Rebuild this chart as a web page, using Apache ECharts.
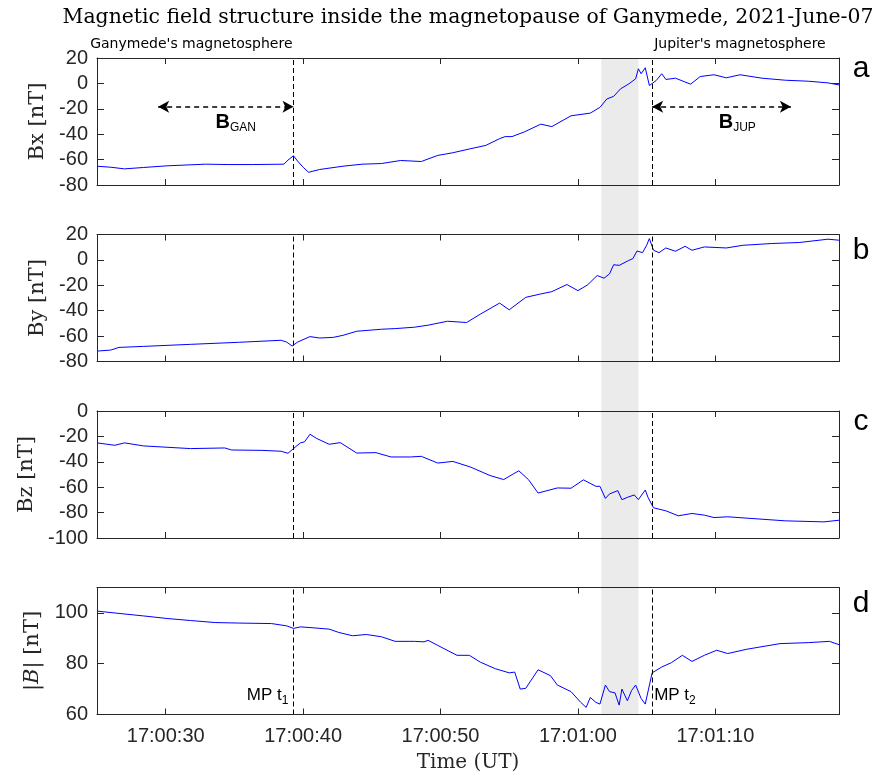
<!DOCTYPE html>
<html><head><meta charset="utf-8">
<script src="https://cdn.jsdelivr.net/npm/echarts@6/dist/echarts.min.js"></script>
<style>html,body{margin:0;padding:0;background:#fff}#c{width:880px;height:776px}</style>
</head><body><div id="c"></div>
<script>
// ---- data (seconds after 17:00:00 UT) ----
const bxTime = [25,26.0,27.0,28.4,30.1,32.9,34.6,36.3,38.6,38.9,39.3,39.6,40.0,40.4,41.2,42.9,44.3,45.7,47.1,48.6,49.8,50.9,52.2,53.3,54.3,54.7,55.2,56.1,57.3,58.1,59.5,60.9,61.6,62.1,62.6,63.1,63.7,64.2,64.4,64.6,64.9,65.2,65.7,66.1,66.4,67.1,68.2,68.9,69.9,70.8,71.8,73.4,75.1,76.8,78.2,79.0];
const bxVal  = [-65.2,-66,-67.3,-66.2,-64.9,-63.6,-63.9,-63.9,-63.6,-60.4,-57,-61.2,-66,-70,-67.8,-65.2,-63.6,-63.1,-60.7,-61.5,-56.7,-54.6,-51.4,-48.8,-43.5,-41.9,-41.9,-38.2,-32.1,-34,-25.5,-23.4,-18.9,-12.3,-10.2,-4.3,-0.4,3.6,11.5,7.6,12.3,-1.7,2.3,7.6,3.1,4.1,-0.6,5.4,6.8,4.4,6.8,4.1,2.5,1.7,0.4,-1.2];
const byTime = [25,26.0,26.6,28.4,31.8,35.3,38.4,38.8,39.2,39.6,40.5,41.2,42.2,42.9,43.9,45.7,46.7,48.1,49.1,50.5,51.9,52.9,54.3,55.0,56.2,57.3,58.1,59.2,60.0,60.7,61.4,61.9,62.3,62.6,63.0,63.7,64.0,64.3,64.7,65.0,65.2,65.5,65.9,66.4,67.1,67.8,68.3,69.2,70.8,72.0,74.1,76.1,78.2,79.0];
const byVal  = [-71.8,-71,-68.9,-68.1,-66.5,-64.9,-63.3,-64.7,-67.8,-64.7,-60.4,-61.5,-61,-59.4,-56.2,-54.6,-54.1,-53,-51.4,-48.3,-49.3,-42.7,-34,-39.3,-29.5,-26.8,-25,-19.4,-24.2,-19.7,-12.3,-14.4,-11,-3.8,-4.3,-0.4,1,7,5.7,11.5,16.8,7.6,5.7,9.4,6.8,10.7,7.6,10.2,9.4,11.5,12.9,13.7,16.3,15.5];
const bzTime = [25,26.3,27.0,28.4,31.8,34.3,34.8,37.0,38.4,38.9,39.3,39.8,40.1,40.5,41.0,41.9,42.7,43.9,45.3,46.4,47.8,48.6,49.8,50.9,52.2,53.6,54.6,55.3,55.7,56.4,57.1,58.5,59.5,60.4,61.3,61.6,62.0,62.3,62.9,63.2,63.6,64.1,64.4,64.9,65.1,65.5,66.4,67.3,68.3,69.2,69.9,70.9,73.4,75.1,77.9,79.0];
const bzVal  = [-25.1,-27,-25.1,-27.5,-29.6,-29.1,-30.7,-31,-31.7,-33.3,-29.6,-25.1,-24.3,-18.3,-21.7,-26.2,-24.9,-33.1,-32.8,-36.2,-36.2,-35.7,-41,-39.7,-44.2,-50.8,-54,-49.5,-47.1,-54,-64.6,-60.6,-60.8,-54.2,-59.3,-59.3,-68.8,-65.3,-62.7,-69.8,-68,-66.1,-69.8,-62.2,-68,-76.2,-78.6,-82.5,-80.7,-82,-83.9,-83.3,-85.2,-86.5,-87.3,-86];
const btTime = [25,26.6,28.4,30.1,31.8,33.6,35.3,37.7,38.8,39.3,39.8,40.8,41.9,42.6,43.6,44.6,45.7,46.7,48.1,48.8,49.1,49.8,51.2,52.1,52.9,54.0,55.0,55.4,55.8,56.2,57.1,58.0,58.5,59.5,60.2,60.6,60.9,61.3,61.6,62.0,62.3,62.7,63.0,63.2,63.6,63.9,64.2,64.6,64.9,65.4,66.1,66.8,67.6,68.3,69.2,70.1,70.9,72.3,74.7,76.8,78.3,79.0];
const btVal  = [100.7,99.8,98.8,97.8,97,96.2,96,95.8,94.9,93.9,94.5,94.1,93.6,92.3,91,91.5,90.6,88.8,88.8,88.6,89.2,87.2,83.3,83.3,80.6,78,76.4,76.7,70,70.3,77.6,75.3,71.6,69,64.8,62.8,66.7,64.8,64.1,71.6,69,68.5,63.7,70,65.4,69.4,71.6,66.3,64.1,76.4,78.7,80.4,83.3,80.9,83.3,85.3,84,85.7,87.9,88.3,88.8,87.5];

const xTickSec = [30,40,50,60,70];
const xTickLabels = ['17:00:30','17:00:40','17:00:50','17:01:00','17:01:10'];
const xRange = [25,79];
const yRanges = [[-80,20],[-80,20],[-100,0],[60,110]];
const yNames = ['Bx [nT]','By [nT]','Bz [nT]','|{i|B}| [nT]'];
const panelLetters = ['a','b','c','d'];
const mpTimes = [39.3, 65.4];
const bandTimes = [61.7, 64.4];
const arrowGan = [[29.45,-18.4],[39.3,-18.4]];
const arrowJup = [[65.4,-18.4],[75.5,-18.4]];
const titleText = 'Magnetic field structure inside the magnetopause of Ganymede, 2021-June-07';

// ---- layout ----
const L = 97, R = 41, H = 127;
const tops = [58, 234.5, 411, 587.5];
const nameGaps = [48, 48, 60, 54];
const AX = '#262626';
const sans = 'Liberation Sans, Arial, sans-serif';
const serif = 'DejaVu Serif, serif';

const series = [[bxTime,bxVal],[byTime,byVal],[bzTime,bzVal],[btTime,btVal]];

const grid = [], xAxis = [], yAxis = [], ser = [];
const fmtX = v => { const i = xTickSec.indexOf(v); return i < 0 ? '' : xTickLabels[i]; };

for (let i = 0; i < 4; i++) {
  grid.push({left: L, right: R, top: tops[i], height: H});
  const xBase = {
    gridIndex: i, type: 'value', min: xRange[0], max: xRange[1], z: 5,
    axisLine: {show: true, onZero: false, lineStyle: {color: AX, width: 1}},
    axisTick: {show: true, inside: true, length: 6, customValues: xTickSec, lineStyle: {color: AX}},
    splitLine: {show: false}
  };
  xAxis.push(Object.assign({}, xBase, {
    position: 'bottom',
    axisLabel: {show: i === 3, customValues: xTickSec, formatter: fmtX, fontFamily: sans, fontSize: 20, color: AX, margin: 12},
    name: i === 3 ? 'Time (UT)' : '', nameLocation: 'middle', nameGap: 38,
    nameTextStyle: {fontFamily: serif, fontSize: 20, color: AX}
  }));
  xAxis.push(Object.assign({}, xBase, {position: 'top', axisLabel: {show: false}}));
  const yBase = {
    gridIndex: i, type: 'value', min: yRanges[i][0], max: yRanges[i][1], interval: 20, z: 5,
    axisLine: {show: true, onZero: false, lineStyle: {color: AX, width: 1}},
    axisTick: {show: true, inside: true, length: 7, lineStyle: {color: AX}},
    splitLine: {show: false}
  };
  yAxis.push(Object.assign({}, yBase, {
    position: 'left',
    axisLabel: {fontFamily: sans, fontSize: 20, color: AX, margin: 9, showMaxLabel: i !== 3},
    name: yNames[i], nameLocation: 'middle', nameRotate: 90, nameGap: nameGaps[i],
    nameTextStyle: {fontFamily: serif, fontSize: 21, color: AX, rich: {i: {fontFamily: serif, fontStyle: 'italic', fontSize: 21, color: AX}}}
  }));
  yAxis.push(Object.assign({}, yBase, {position: 'right', axisLabel: {show: false}}));

  ser.push({
    type: 'line', xAxisIndex: 2*i, yAxisIndex: 2*i, z: 3,
    data: series[i][0].map((t, k) => [t, series[i][1][k]]),
    showSymbol: false, symbol: 'none', lineStyle: {color: '#0000ff', width: 1}, itemStyle: {color: '#0000ff'},
    animation: false,
    markLine: {silent: true, symbol: 'none', animation: false,
      lineStyle: {color: '#000', type: [5, 3], width: 1}, label: {show: false},
      data: mpTimes.map(t => ({xAxis: t}))}
  });
}

// background band spanning all panels
grid.push({left: L, right: R, top: tops[0], height: tops[3] + H - tops[0]});
xAxis.push({gridIndex: 4, type: 'value', min: xRange[0], max: xRange[1], show: false});
yAxis.push({gridIndex: 4, type: 'value', min: 0, max: 1, show: false});
ser.push({type: 'line', xAxisIndex: 8, yAxisIndex: 8, z: 1, data: [], animation: false,
  markArea: {silent: true, itemStyle: {color: '#ebebeb'}, data: [[{xAxis: bandTimes[0]}, {xAxis: bandTimes[1]}]]}});

// arrows in panel a
ser.push({type: 'line', xAxisIndex: 0, yAxisIndex: 0, z: 4, data: [], animation: false,
  markLine: {silent: true, symbol: ['arrow', 'arrow'], symbolSize: [9, 11], animation: false,
    lineStyle: {color: '#000', type: [5, 4], width: 1.5}, label: {show: false},
    data: [[{coord: arrowGan[0]}, {coord: arrowGan[1]}], [{coord: arrowJup[0]}, {coord: arrowJup[1]}]]}});

// text annotations
const richSub = {
  b: {fontFamily: sans, fontWeight: 'bold', fontSize: 20, color: '#000', lineHeight: 22, verticalAlign: 'middle'},
  g: {fontFamily: sans, fontSize: 12, color: '#000', lineHeight: 12, verticalAlign: 'bottom'},
  m: {fontFamily: sans, fontSize: 17, color: '#000', lineHeight: 23, verticalAlign: 'middle'},
  s: {fontFamily: sans, fontSize: 12, color: '#000', lineHeight: 12, verticalAlign: 'bottom'},
  t: {fontFamily: 'DejaVu Sans, sans-serif', fontSize: 14, color: '#000'}
};
const annotations = [
  {p: 0, t: mpTimes[0], v: 30.5, text: "{t|Ganymede's magnetosphere}", pos: 'left', dist: 1},
  {p: 0, t: mpTimes[1], v: 30.5, text: "{t|Jupiter's magnetosphere}", pos: 'right', dist: 2},
  {p: 0, t: 35.1, v: -31, text: '{b|B}{g|GAN}', pos: 'inside', dist: 0},
  {p: 0, t: 71.6, v: -31, text: '{b|B}{g|JUP}', pos: 'inside', dist: 0},
  {p: 3, t: mpTimes[0], v: 67.5, text: '{m|MP t}{s|1}', pos: 'left', dist: 5},
  {p: 3, t: mpTimes[1], v: 67.5, text: '{m|MP t}{s|2}', pos: 'right', dist: 2}
];
annotations.forEach(a => {
  ser.push({type: 'scatter', xAxisIndex: 2*a.p, yAxisIndex: 2*a.p, z: 6, clip: false, silent: true, animation: false,
    symbolSize: 0, data: [[a.t, a.v]],
    label: {show: true, position: a.pos, distance: a.dist, formatter: a.text, color: '#000', opacity: 1, rich: richSub}});
});

const graphic = [
  {type: 'text', x: L + (880 - L - R) / 2, y: 18, style: {text: titleText, textAlign: 'center', textVerticalAlign: 'middle', font: '20.4px "DejaVu Serif", serif', fill: '#000'}}
];
const letterOff = [11, 16, 11, 16];
panelLetters.forEach((s, i) => graphic.push({type: 'text', x: 861, y: tops[i] + letterOff[i],
  style: {text: s, textAlign: 'center', textVerticalAlign: 'middle', font: '30px "Liberation Sans", Arial, sans-serif', fill: '#000'}}));

const chart = echarts.init(document.getElementById('c'), null, {renderer: 'canvas'});
chart.setOption({animation: false, backgroundColor: '#fff', grid, xAxis, yAxis, series: ser, graphic});
</script></body></html>
